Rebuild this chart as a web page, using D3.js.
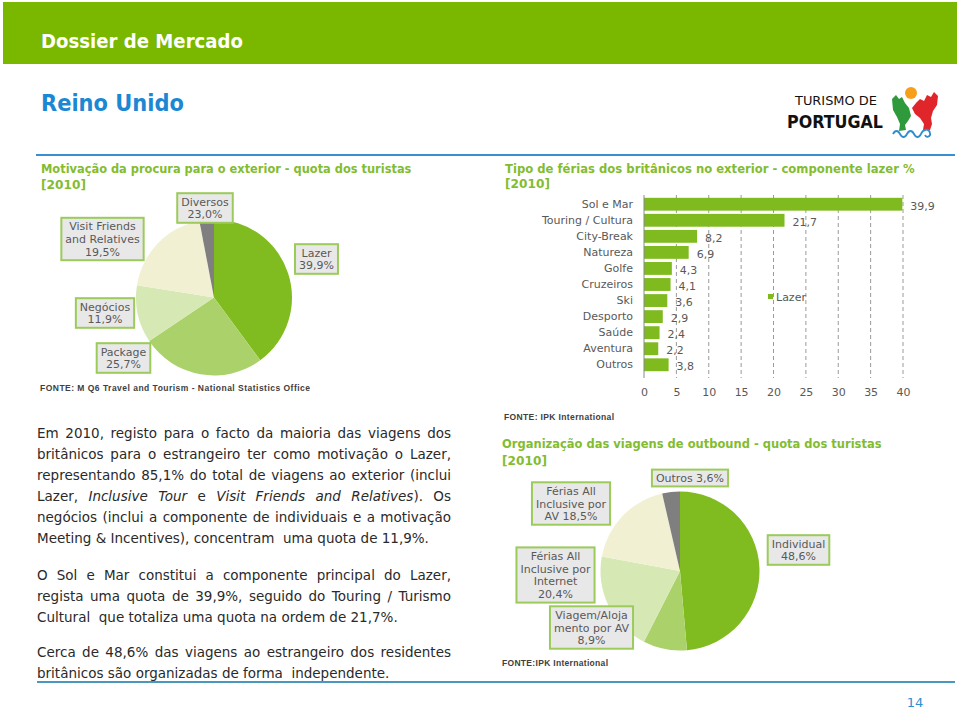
<!DOCTYPE html>
<html>
<head>
<meta charset="utf-8">
<script src="https://cdn.jsdelivr.net/npm/d3@7"></script>
<style>
body { margin: 0; background: #fff; }
svg { display: block; font-family: "DejaVu Sans", Verdana, sans-serif; }
</style>
</head>
<body>
<div id="page"></div>
<script>
var WIDTH = 960;
var HEIGHT = 711;

// pie 1 - motivacao
var motivValues = [39.9, 25.7, 11.9, 19.5, 3.0];
var motivLabels = [["Lazer", "39,9%"], ["Package", "25,7%"], ["Negócios", "11,9%"],
  ["Visit Friends", "and Relatives", "19,5%"], ["Diversos", "23,0%"]];

// bars - tipo de ferias
var ferias = ["Sol e Mar", "Touring / Cultura", "City-Break", "Natureza", "Golfe", "Cruzeiros",
  "Ski", "Desporto", "Saúde", "Aventura", "Outros"];
var feriasValues = [39.9, 21.7, 8.2, 6.9, 4.3, 4.1, 3.6, 2.9, 2.4, 2.2, 3.8];
var feriasTicks = [0, 5, 10, 15, 20, 25, 30, 35, 40];

// pie 2 - organizacao
var orgValues = [48.6, 8.9, 20.4, 18.5, 3.6];
var orgLabels = [["Individual", "48,6%"], ["Viagem/Aloja", "mento por AV", "8,9%"],
  ["Férias All", "Inclusive por", "Internet", "20,4%"], ["Férias All", "Inclusive por", "AV 18,5%"],
  ["Outros 3,6%"]];

var sliceColors = ["#80bc1f", "#abd26a", "#d6e9b5", "#f1f0d3", "#7f7f7f"];

// where the label boxes sit (layout only)
var motivBoxes = [[316.5, 259], [123.5, 358], [105, 313], [102.5, 239], [205, 208]];
var orgBoxes = [[798.5, 550], [591.5, 627.5], [555.5, 575], [571, 503.5], [690, 478]];

var para1 = [
  "Em 2010, registo para o facto da maioria das viagens dos",
  "britânicos para o estrangeiro ter como motivação o Lazer,",
  "representando 85,1% do total de viagens ao exterior (inclui",
  "Lazer, _Inclusive Tour_ e _Visit Friends and Relatives_). Os",
  "negócios (inclui a componente de individuais e a motivação",
  "Meeting & Incentives), concentram  uma quota de 11,9%."
];
var para2 = [
  "O Sol e Mar constitui a componente principal do Lazer,",
  "regista uma quota de 39,9%, seguido do Touring / Turismo",
  "Cultural  que totaliza uma quota na ordem de 21,7%."
];
var para3 = [
  "Cerca de 48,6% das viagens ao estrangeiro dos residentes",
  "britânicos são organizadas de forma  independente."
];

var GREEN_TITLE = "#83bc2f";
var GREY_TEXT = "#595959";

var svg = d3.select('#page').append('svg')
  .attr('width', WIDTH)
  .attr('height', HEIGHT);

// text squeezed horizontally to a given width
function fitText(x, y, w, txt, size, weight, fill, family) {
  var g = svg.append('g');
  var t = g.append('text').attr('fill', fill).attr('font-size', size)
    .attr('font-weight', weight).attr('font-family', family || null).text(txt);
  var sx = w / t.node().getComputedTextLength();
  g.attr('transform', 'translate(' + x + ',' + y + ') scale(' + sx + ',1)');
  return t;
}

// header
svg.append('rect').attr('x', 3).attr('y', 2).attr('width', 954).attr('height', 62).attr('fill', '#7ab800');
fitText(41, 48, 202, 'Dossier de Mercado', 20, 'bold', '#fff');
fitText(41, 111, 143, 'Reino Unido', 23, 'bold', '#1c87d3');

// logo
fitText(795, 105, 82, 'TURISMO DE', 13, 'normal', '#111');
fitText(787, 128, 96, 'PORTUGAL', 18, 'bold', '#111');
var logo = svg.append('g');
logo.append('path').attr('fill', '#2f9a3c')
  .attr('d', 'M892,99 L896,95 L899,99 L902,97 L905,103 L909,108 L911,116 L908,121 L905,125 L906,130 L899,131 L900,124 L897,117 L893,110 Z');
logo.append('path').attr('fill', '#e1262b')
  .attr('d', 'M912,108 L916,103 L920,99 L924,101 L927,95 L931,97 L934,92 L938,96 L937,105 L933,111 L931,118 L932,124 L930,130 L923,130 L924,124 L920,118 L915,114 Z');
logo.append('circle').attr('cx', 911).attr('cy', 93).attr('r', 6).attr('fill', '#f6a01a');
logo.append('path').attr('fill', 'none').attr('stroke', '#2a8fd0').attr('stroke-width', 1.8)
  .attr('d', 'M893,134 c2,-4 5,-4 7,0 c2,4 5,4 7,0 c2,-4 5,-4 7,0 c2,4 5,4 7,0 c2,-5 8,-6 9,-1 c1,4 -4,5 -5,2');

// separator lines
svg.append('line').attr('x1', 36).attr('x2', 955).attr('y1', 155).attr('y2', 155)
  .attr('stroke', '#3a8fd0').attr('stroke-width', 2);
svg.append('line').attr('x1', 37).attr('x2', 955).attr('y1', 682).attr('y2', 682)
  .attr('stroke', '#4a98be').attr('stroke-width', 2);
svg.append('text').attr('x', 915).attr('y', 707).attr('text-anchor', 'middle')
  .attr('fill', '#2f8fd0').attr('font-size', 13).text('14');

function title(x, y, w, txt) {
  fitText(x, y, w, txt, 13, 'bold', GREEN_TITLE);
}
function fonte(x, y, w, txt) {
  svg.append('text').attr('x', x).attr('y', y).attr('fill', '#404040')
    .attr('font-family', '"Liberation Sans", Arial, sans-serif')
    .attr('font-size', 8.5).attr('font-weight', 'bold')
    .attr('textLength', w).attr('lengthAdjust', 'spacing')
    .text(txt);
}

title(41, 173, 371, 'Motivação da procura para o exterior - quota dos turistas');
title(41, 189, 45, '[2010]');
title(505, 173, 410, 'Tipo de férias dos britânicos no exterior - componente lazer %');
title(505, 188, 45, '[2010]');
title(502, 448, 380, 'Organização das viagens de outbound - quota dos turistas');
title(502, 465, 45, '[2010]');

fonte(40, 391, 270, 'FONTE: M Q6 Travel and Tourism - National Statistics Office');
fonte(504, 420, 110, 'FONTE: IPK International');
fonte(502, 666, 106, 'FONTE:IPK International');

// pies
function drawPie(values, labels, boxes, cx, cy, r) {
  var pie = d3.pie().sort(null).value(function(d) { return d; });
  var arc = d3.arc().innerRadius(0).outerRadius(r);
  var g = svg.append('g').attr('transform', 'translate(' + cx + ',' + cy + ')');
  g.selectAll('path').data(pie(values)).enter().append('path')
    .attr('d', arc)
    .attr('fill', function(d, i) { return sliceColors[i]; });

  var lh = 12.8;
  labels.forEach(function(lines, i) {
    var bx = boxes[i][0], by = boxes[i][1];
    var lg = svg.append('g');
    var rect = lg.append('rect');
    var t = lg.append('text').attr('text-anchor', 'middle').attr('fill', GREY_TEXT).attr('font-size', 11);
    lines.forEach(function(s, k) {
      t.append('tspan').attr('x', bx).attr('y', by + (k - (lines.length - 1) / 2) * lh + 4).text(s);
    });
    var w = d3.max(t.selectAll('tspan').nodes(), function(n) { return n.getComputedTextLength(); }) + 8;
    var h = lines.length * lh + 4;
    rect.attr('x', bx - w / 2).attr('y', by - h / 2).attr('width', w).attr('height', h)
      .attr('fill', '#e8e8e8').attr('stroke', '#9ccb5b').attr('stroke-width', 2);
  });
}

drawPie(motivValues, motivLabels, motivBoxes, 214, 297.5, 78);
drawPie(orgValues, orgLabels, orgBoxes, 680, 571, 79.5);

// bar chart
var x = d3.scaleLinear().domain([0, 40]).range([644, 903]);
var y = d3.scaleBand().domain(ferias).range([196.2, 372.8]).paddingInner(0.2).paddingOuter(0.1);
var plotTop = 195, plotBottom = 378;

svg.append('g').selectAll('line').data(feriasTicks.slice(1)).enter().append('line')
  .attr('x1', function(d) { return x(d); }).attr('x2', function(d) { return x(d); })
  .attr('y1', plotTop).attr('y2', plotBottom)
  .attr('stroke', '#9a9a9a').attr('stroke-width', 1).attr('stroke-dasharray', '4,3');

svg.append('g').selectAll('rect').data(feriasValues).enter().append('rect')
  .attr('x', x(0))
  .attr('y', function(d, i) { return y(ferias[i]); })
  .attr('width', function(d) { return x(d) - x(0); })
  .attr('height', y.bandwidth())
  .attr('fill', '#7fba1e');

svg.append('line').attr('x1', x(0)).attr('x2', x(0)).attr('y1', plotTop).attr('y2', plotBottom)
  .attr('stroke', '#888').attr('stroke-width', 1);

var fmt = function(v) { return d3.format('.1f')(v).replace('.', ','); };
svg.append('g').selectAll('text').data(feriasValues).enter().append('text')
  .attr('x', function(d) { return x(d) + 8; })
  .attr('y', function(d, i) { return y(ferias[i]) + y.bandwidth() / 2 + 5.5; })
  .attr('fill', GREY_TEXT).attr('font-size', 11)
  .text(fmt);

var xAxis = svg.append('g').attr('transform', 'translate(0,' + plotBottom + ')')
  .call(d3.axisBottom(x).tickValues(feriasTicks).tickSize(0).tickPadding(10));
var yAxis = svg.append('g').attr('transform', 'translate(' + x(0) + ',0)')
  .call(d3.axisLeft(y).tickSize(0).tickPadding(11));
[xAxis, yAxis].forEach(function(a) {
  a.select('.domain').remove();
  a.attr('font-family', null).attr('font-size', null);
  a.selectAll('text').attr('fill', GREY_TEXT).attr('font-size', 11);
});

// legend
svg.append('rect').attr('x', 768).attr('y', 294).attr('width', 5).attr('height', 5).attr('fill', '#7fba1e');
svg.append('text').attr('x', 776).attr('y', 301).attr('fill', GREY_TEXT).attr('font-size', 11).text('Lazer');

// body text, justified
var bodyX = 37, bodyW = 414, lineH = 21, spaceW = 4.3;
function drawPara(lines, y0) {
  lines.forEach(function(line, li) {
    var last = li === lines.length - 1;
    var ital = false;
    var words = [];
    line.split(' ').forEach(function(w) {
      var pieces = [];
      w.split('_').forEach(function(p, k) {
        if (k > 0) ital = !ital;
        if (p) pieces.push([p, ital]);
      });
      words.push(pieces);
    });
    var g = svg.append('g').attr('fill', '#2a2a2a').attr('font-size', 13.5);
    var nodes = words.map(function(pieces) {
      var t = g.append('text').attr('y', y0 + li * lineH);
      pieces.forEach(function(p) {
        t.append('tspan').attr('font-style', p[1] ? 'italic' : null).text(p[0]);
      });
      return t;
    });
    var widths = nodes.map(function(n) { return n.node().getComputedTextLength(); });
    var gap = last ? spaceW : (bodyW - d3.sum(widths)) / (words.length - 1);
    var cx = bodyX;
    nodes.forEach(function(n, i) {
      n.attr('x', cx);
      cx += widths[i] + gap;
    });
  });
}
drawPara(para1, 438);
drawPara(para2, 580);
drawPara(para3, 657);
</script>
</body>
</html>
